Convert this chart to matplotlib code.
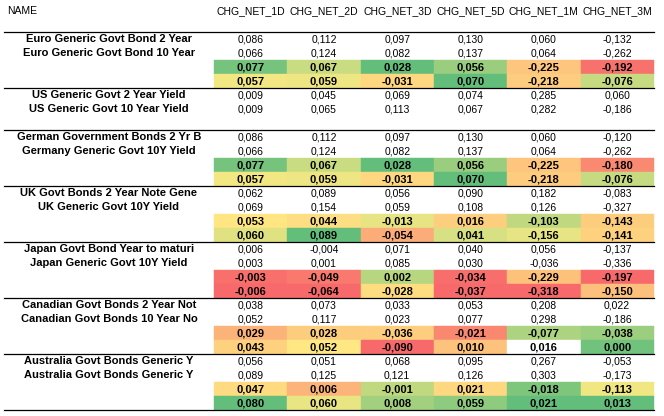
import numpy as np
import matplotlib.pyplot as plt
from matplotlib.colors import LinearSegmentedColormap, TwoSlopeNorm
from matplotlib.patches import Rectangle

plt.rcParams['font.family'] = ['Liberation Sans', 'DejaVu Sans']

columns = ['CHG_NET_1D', 'CHG_NET_2D', 'CHG_NET_3D', 'CHG_NET_5D', 'CHG_NET_1M', 'CHG_NET_3M']

group_names = [
    ['Euro Generic Govt Bond 2 Year', 'Euro Generic Govt Bond 10 Year'],
    ['US Generic Govt 2 Year Yield', 'US Generic Govt 10 Year Yield'],
    ['German Government Bonds 2 Yr B', 'Germany Generic Govt 10Y Yield'],
    ['UK Govt Bonds 2 Year Note Gene', 'UK Generic Govt 10Y Yield'],
    ['Japan Govt Bond Year to maturi', 'Japan Generic Govt 10Y Yield'],
    ['Canadian Govt Bonds 2 Year Not', 'Canadian Govt Bonds 10 Year No'],
    ['Australia Govt Bonds Generic Y', 'Australia Govt Bonds Generic Y'],
]

# plain rows (two per group)
group_values = [
    [[0.086, 0.112, 0.097, 0.130, 0.060, -0.132],
     [0.066, 0.124, 0.082, 0.137, 0.064, -0.262]],
    [[0.009, 0.045, 0.069, 0.074, 0.285, 0.060],
     [0.009, 0.065, 0.113, 0.067, 0.282, -0.186]],
    [[0.086, 0.112, 0.097, 0.130, 0.060, -0.120],
     [0.066, 0.124, 0.082, 0.137, 0.064, -0.262]],
    [[0.062, 0.089, 0.056, 0.090, 0.182, -0.083],
     [0.069, 0.154, 0.059, 0.108, 0.126, -0.327]],
    [[0.006, -0.004, 0.071, 0.040, 0.056, -0.137],
     [0.003, 0.001, 0.085, 0.030, -0.036, -0.336]],
    [[0.038, 0.073, 0.033, 0.053, 0.208, 0.022],
     [0.052, 0.117, 0.023, 0.077, 0.298, -0.186]],
    [[0.056, 0.051, 0.068, 0.095, 0.267, -0.053],
     [0.089, 0.125, 0.121, 0.126, 0.303, -0.173]],
]

# bold, colour-scaled rows
group_changes = [
    [[0.077, 0.067, 0.028, 0.056, -0.225, -0.192],
     [0.057, 0.059, -0.031, 0.070, -0.218, -0.076]],
    [],
    [[0.077, 0.067, 0.028, 0.056, -0.225, -0.180],
     [0.057, 0.059, -0.031, 0.070, -0.218, -0.076]],
    [[0.053, 0.044, -0.013, 0.016, -0.103, -0.143],
     [0.060, 0.089, -0.054, 0.041, -0.156, -0.141]],
    [[-0.003, -0.049, 0.002, -0.034, -0.229, -0.197],
     [-0.006, -0.064, -0.028, -0.037, -0.318, -0.150]],
    [[0.029, 0.028, -0.036, -0.021, -0.077, -0.038],
     [0.043, 0.052, -0.090, 0.010, 0.016, 0.000]],
    [[0.047, 0.006, -0.001, 0.021, -0.018, -0.113],
     [0.080, 0.060, 0.008, 0.059, 0.021, 0.013]],
]

# (group, row, column) of the one bold cell left without colour
uncoloured = [(5, 1, 4)]

# layout in pixels
TOP = 32
ROW_H = 14
NAME_X = 109
COL_X0 = 214
COL_W = 73.3
LINE_X0, LINE_X1 = 4, 654
FS = 7.5
FS_BOLD = 8

cmap = LinearSegmentedColormap.from_list('rdylgn_xl', ['#F8696B', '#FFEB84', '#63BE7B'])

all_changes = np.array([r for g in group_changes for r in g])
norms = []
for j in range(len(columns)):
    col = all_changes[:, j]
    norms.append(TwoSlopeNorm(vmin=col.min(), vcenter=np.median(col), vmax=col.max()))


def fmt(v):
    return '{:.3f}'.format(v).replace('.', ',').replace('-0,000', '0,000')


fig = plt.figure(figsize=(6.64, 4.16), dpi=100)
ax = fig.add_axes([0, 0, 1, 1])
ax.set_xlim(0, 664)
ax.set_ylim(416, 0)
ax.axis('off')

ax.text(7, 11, 'NAME', fontsize=FS, ha='left', va='center')
for j, c in enumerate(columns):
    ax.text(COL_X0 + COL_W * (j + 0.5), 11, c, fontsize=FS, ha='center', va='center')

row = 0
for g in range(len(group_names)):
    y_top = TOP + row * ROW_H
    ax.plot([LINE_X0, LINE_X1], [y_top, y_top], color='black', lw=0.9)
    for i in range(2):
        yc = y_top + ROW_H * (i + 0.5)
        ax.text(NAME_X, yc, group_names[g][i], fontsize=FS_BOLD, fontweight='bold',
                ha='center', va='center')
        for j, v in enumerate(group_values[g][i]):
            ax.text(COL_X0 + COL_W * (j + 0.5), yc, fmt(v), fontsize=FS,
                    ha='center', va='center')
    changes = group_changes[g]
    for i, vals in enumerate(changes):
        yc = y_top + ROW_H * (i + 2.5)
        for j, v in enumerate(vals):
            if (g, i, j) in uncoloured:
                fc = 'white'
            else:
                fc = cmap(norms[j](v))
            ax.add_patch(Rectangle((COL_X0 + COL_W * j, y_top + ROW_H * (i + 2)),
                                   COL_W, ROW_H, facecolor=fc, edgecolor=fc, lw=0.3))
            ax.text(COL_X0 + COL_W * (j + 0.5), yc, fmt(v), fontsize=FS_BOLD,
                    fontweight='bold', ha='center', va='center')
    row += 2 + (len(changes) if changes else 1)

y_end = TOP + row * ROW_H
ax.plot([LINE_X0, LINE_X1], [y_end, y_end], color='black', lw=0.9)

fig.savefig('out.png', dpi=100, facecolor='white')
